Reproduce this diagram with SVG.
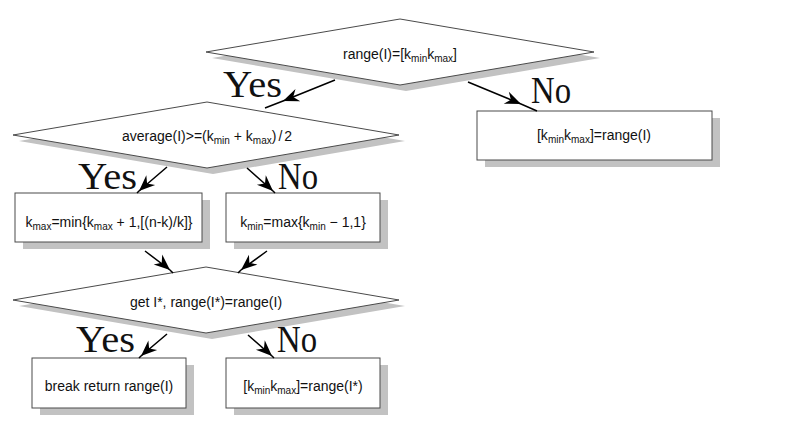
<svg xmlns="http://www.w3.org/2000/svg" width="800" height="436" viewBox="0 0 800 436">
  <style>
    .shadow { fill: #c2c2c2; stroke: none; }
    .shape { fill: #ffffff; stroke: #4a4a4a; stroke-width: 1; }
    .t { font-family: "Liberation Sans", Arial, sans-serif; font-size: 14px; fill: #111; text-anchor: middle; }
    .sub { font-size: 10px; }
    .yn { font-family: "Liberation Serif", "Times New Roman", serif; font-size: 38px; fill: #111; }
    .conn { fill: none; stroke: #000; stroke-width: 1.5; marker-mid: url(#head); }
  </style>
  <defs>
    <marker id="head" markerUnits="userSpaceOnUse" orient="auto" refX="0" refY="0" markerWidth="40" markerHeight="40" overflow="visible">
      <path d="M0,0 L-16,-6.5 L-11,0 L-16,6.5 Z" fill="#000"/>
    </marker>
  </defs>

  <rect width="800" height="436" fill="#ffffff"/>

  <!-- decision: range check -->
  <g id="d1">
    <polygon class="shadow" points="212,58 406,25 600,58 406,91"/>
    <polygon class="shape" points="206,52 400,19 594,52 400,85"/>
    <text class="t" x="400" y="59">range(I)=[k<tspan class="sub" dy="3">min</tspan><tspan dy="-3">k</tspan><tspan class="sub" dy="3">max</tspan><tspan dy="-3">]</tspan></text>
  </g>

  <!-- decision: average test -->
  <g id="d2">
    <polygon class="shadow" points="19,141 213,108 405,141 213,174"/>
    <polygon class="shape" points="13,135 207,102 399,135 207,168"/>
    <text class="t" x="207" y="141">average(I)&gt;=(k<tspan class="sub" dy="3">min</tspan><tspan dy="-3"> + k</tspan><tspan class="sub" dy="3">max</tspan><tspan dy="-3">)</tspan><tspan dx="2">/</tspan><tspan dx="2">2</tspan></text>
  </g>

  <!-- process: keep range -->
  <g id="b1">
    <rect class="shadow" x="485" y="118" width="235" height="49"/>
    <rect class="shape" x="477" y="111" width="235" height="49"/>
    <text class="t" x="594" y="140">[k<tspan class="sub" dy="3">min</tspan><tspan dy="-3">k</tspan><tspan class="sub" dy="3">max</tspan><tspan dy="-3">]=range(I)</tspan></text>
  </g>

  <!-- process: raise k_max -->
  <g id="b2">
    <rect class="shadow" x="23" y="200" width="187" height="49"/>
    <rect class="shape" x="15" y="193" width="187" height="49"/>
    <text class="t" x="109" y="227">k<tspan class="sub" dy="3">max</tspan><tspan dy="-3">=min{k</tspan><tspan class="sub" dy="3">max</tspan><tspan dy="-3"> + 1,[(n-k)/k]}</tspan></text>
  </g>

  <!-- process: lower k_min -->
  <g id="b3">
    <rect class="shadow" x="234" y="200" width="154" height="49"/>
    <rect class="shape" x="226" y="193" width="154" height="49"/>
    <text class="t" x="303" y="227">k<tspan class="sub" dy="3">min</tspan><tspan dy="-3">=max{k</tspan><tspan class="sub" dy="3">min</tspan><tspan dy="-3"> − 1,1}</tspan></text>
  </g>

  <!-- decision: new partition -->
  <g id="d3">
    <polygon class="shadow" points="19,306 212,273 405,306 212,339"/>
    <polygon class="shape" points="13,300 206,267 399,300 206,333"/>
    <text class="t" x="206" y="307">get I*, range(I*)=range(I)</text>
  </g>

  <!-- terminal: return -->
  <g id="b4">
    <rect class="shadow" x="40" y="365" width="154" height="50"/>
    <rect class="shape" x="32" y="358" width="154" height="50"/>
    <text class="t" x="109" y="391">break return range(I)</text>
  </g>

  <!-- process: update range -->
  <g id="b5">
    <rect class="shadow" x="234" y="365" width="154" height="50"/>
    <rect class="shape" x="226" y="358" width="154" height="50"/>
    <text class="t" x="303" y="391">[k<tspan class="sub" dy="3">min</tspan><tspan dy="-3">k</tspan><tspan class="sub" dy="3">max</tspan><tspan dy="-3">]=range(I*)</tspan></text>
  </g>

  <!-- connectors: arrowhead sits on the middle vertex of each path -->
  <g id="connectors">
    <path class="conn" d="M335,80 L283,101 L265,108"/>
    <path class="conn" d="M468,82 L521,104 L537,111"/>
    <path class="conn" d="M167,167 L139,191 L137,193"/>
    <path class="conn" d="M247,168 L273,191 L275,193"/>
    <path class="conn" d="M145,251 L170,270 L173,273"/>
    <path class="conn" d="M267,251 L241,270 L238,273"/>
    <path class="conn" d="M167,334 L141,356 L139,358"/>
    <path class="conn" d="M248,335 L272,356 L274,358"/>
  </g>

  <!-- branch labels -->
  <g id="labels">
    <text class="yn" x="223" y="97" textLength="59" lengthAdjust="spacingAndGlyphs">Yes</text>
    <text class="yn" x="531" y="103" textLength="40" lengthAdjust="spacingAndGlyphs">No</text>
    <text class="yn" x="78" y="189" textLength="59" lengthAdjust="spacingAndGlyphs">Yes</text>
    <text class="yn" x="278" y="189" textLength="40" lengthAdjust="spacingAndGlyphs">No</text>
    <text class="yn" x="76" y="352" textLength="59" lengthAdjust="spacingAndGlyphs">Yes</text>
    <text class="yn" x="277" y="352" textLength="40" lengthAdjust="spacingAndGlyphs">No</text>
  </g>
</svg>
